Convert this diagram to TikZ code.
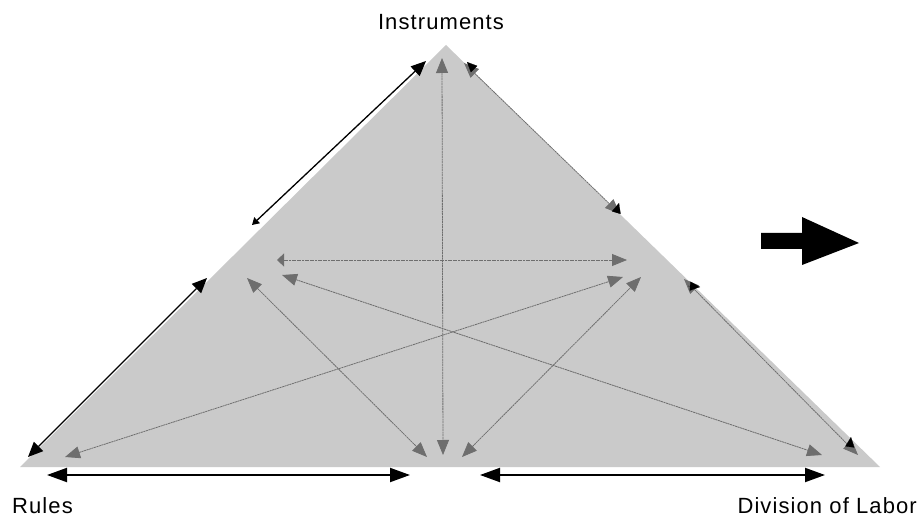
\documentclass[tikz,border=0pt]{standalone}
\usepackage{fontspec}
\setmainfont{Liberation Sans}
\newfontfamily\lblfont[LetterSpace=5]{Liberation Sans}
\usetikzlibrary{arrows.meta,calc}
\definecolor{trifill}{RGB}{202,202,202}
\definecolor{arrgrey}{RGB}{110,110,110}
\begin{document}
\begin{tikzpicture}[x=1pt,y=-1pt,
  blkedge/.style={draw=black,line width=1.3pt,{Triangle[length=15pt,width=13pt]}-{Triangle[length=15pt,width=13pt]}},
  blkbottom/.style={draw=black,line width=2pt,{Triangle[length=20pt,width=14pt]}-{Triangle[length=20pt,width=14pt]}},
  grey/.style={draw=arrgrey,line width=0.8pt,dash pattern=on 2pt off 0.6pt,{Triangle[length=15pt,width=12pt]}-{Triangle[length=15pt,width=12pt]}},
  blktip/.style={draw=black,fill=black,line width=0.2pt,-{Triangle[length=10pt,width=9pt]}},
  lbl/.style={font=\lblfont\fontsize{22}{25}\selectfont,inner sep=0pt}]
\useasboundingbox (0,0) rectangle (920,518);
% triangle corners
\coordinate (apex) at (446,45);
\coordinate (bl) at (20,467);
\coordinate (br) at (880,467);
\fill[trifill] (apex) -- (br) -- (bl) -- cycle;
% left edge (black)
\coordinate (la1) at (28,457);
\coordinate (la2) at (207,278);
\coordinate (lb1) at (252,225);
\coordinate (lb2) at (426,61);
\draw[blkedge] (la1) -- (la2);
\draw[draw=black,line width=1.3pt,{Triangle[length=7pt,width=8pt]}-{Triangle[length=15pt,width=13pt]}] (lb1) -- (lb2);
% right edge (grey with black tips)
\coordinate (ra1) at (464,63);
\coordinate (ra2) at (620,214);
\coordinate (rb1) at (684,279);
\coordinate (rb2) at (858,455);
\draw[grey] (ra1) -- (ra2);
\draw[grey] (rb1) -- (rb2);
\draw[blktip] ($(ra1)+(8,4)$) -- ($(ra1)+(3,-1)$);
\draw[blktip] ($(ra2)+(-3,-4)$) -- ($(ra2)+(-1,-11)$);
\draw[blktip] ($(rb1)+(4,7)$) -- ($(rb1)+(16,8)$);
\draw[blktip] ($(rb2)+(-8,-10)$) -- ($(rb2)+(-7,-18)$);
% inner grey arrows
\coordinate (vt) at (442,58);
\coordinate (vb) at (443,455);
\draw[grey] (vt) -- (vb);
\coordinate (hl) at (277,260);
\coordinate (hr) at (627,260);
\draw[draw=arrgrey,line width=0.8pt,dash pattern=on 2pt off 0.6pt,{Triangle[length=7pt,width=13pt]}-{Triangle[length=15pt,width=12pt]}] (hl) -- (hr);
\coordinate (a3s) at (247,278);
\coordinate (a3e) at (427,457);
\draw[grey] (a3s) -- (a3e);
\coordinate (a4s) at (282,275);
\coordinate (a4e) at (822,455);
\draw[grey] (a4s) -- (a4e);
\coordinate (a5s) at (65,457);
\coordinate (a5e) at (623,277);
\draw[grey] (a5s) -- (a5e);
\coordinate (a6s) at (462,457);
\coordinate (a6e) at (641,277);
\draw[grey] (a6s) -- (a6e);
% bottom black arrows
\coordinate (b1s) at (47,475);
\coordinate (b1e) at (410,475);
\draw[blkbottom] (b1s) -- (b1e);
\coordinate (b2s) at (480,475);
\coordinate (b2e) at (825,475);
\draw[blkbottom] (b2s) -- (b2e);
% big black arrow
\fill[black] (761,233) -- (802,233) -- (802,217) -- (859,243) -- (802,265) -- (802,249) -- (761,249) -- cycle;
% labels
\node[lbl,anchor=base] (instr) at (441,30) {Instruments};
\node[lbl,anchor=base west] (rules) at (12,513) {Rules};
\node[lbl,anchor=base east] (dol) at (917,513) {Division of Labor};
\end{tikzpicture}
\end{document}
